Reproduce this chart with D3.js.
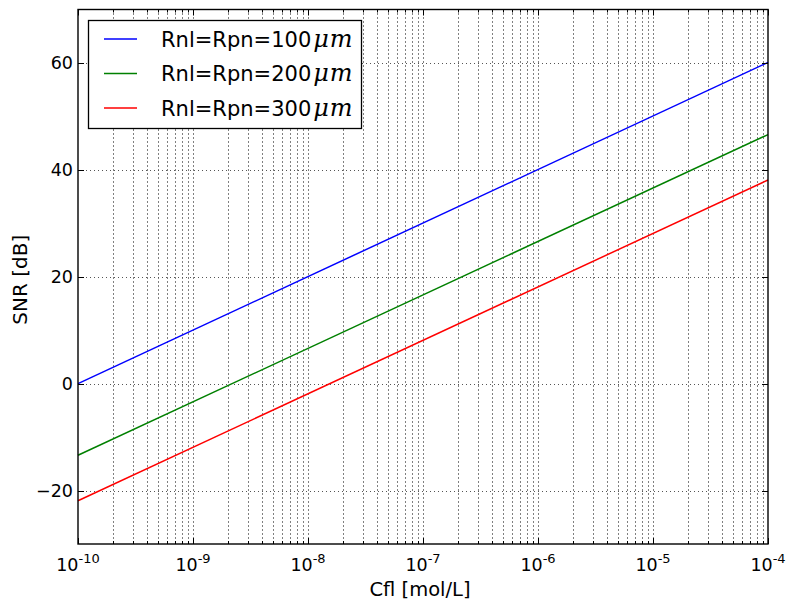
<!DOCTYPE html>
<html>
<head>
<meta charset="utf-8">
<script src="https://cdn.jsdelivr.net/npm/d3@7"></script>
<style>
  body { margin: 0; background: #fff; }
  text { font-family: "DejaVu Sans", sans-serif; }
</style>
</head>
<body>
<svg id="canvas" width="788" height="604"></svg>
<script>
// data
let concentrations = [1e-10, 1e-4]
let seriesNames = ['Rnl=Rpn=100', 'Rnl=Rpn=200', 'Rnl=Rpn=300']
let seriesColors = ['#0000ff', '#008000', '#ff0000']
let snrBlue = [0.0, 60.1]
let snrGreen = [-13.4, 46.6]
let snrRed = [-21.9, 38.1]
let yTicks = [-20, 0, 20, 40, 60]
let xTickExps = [-10, -9, -8, -7, -6, -5, -4]

let series = [snrBlue, snrGreen, snrRed]

let canvas = d3.select('#canvas')
let plotLeft = 78, plotRight = 768, plotTop = 9.5, plotBottom = 544

let xScale = d3.scaleLog().domain([1e-10, 1e-4]).range([plotLeft, plotRight])
let yScale = d3.scaleLinear().domain([-30, 70]).range([plotBottom, plotTop])

// minor positions for the log axis
let minorX = []
for (let e = -10; e < -4; e++) {
    for (let m = 2; m <= 9; m++) minorX.push(m * Math.pow(10, e))
}
let majorX = xTickExps.map(e => Math.pow(10, e))

let grid = canvas.append('g')
grid.selectAll('line.vx')
    .data(majorX.concat(minorX).filter(v => v > 1e-10 && v < 1e-4))
    .enter()
    .append('line')
    .attr('x1', d => Math.round(xScale(d)) + 0.5)
    .attr('x2', d => Math.round(xScale(d)) + 0.5)
    .attr('y1', plotTop).attr('y2', plotBottom)
    .attr('stroke', '#000')
    .attr('stroke-width', 1)
    .attr('stroke-dasharray', '1,3')
grid.selectAll('line.hy')
    .data(yTicks)
    .enter()
    .append('line')
    .attr('x1', plotLeft).attr('x2', plotRight)
    .attr('y1', d => Math.round(yScale(d)) + 0.5)
    .attr('y2', d => Math.round(yScale(d)) + 0.5)
    .attr('stroke', '#555')
    .attr('stroke-width', 1)
    .attr('stroke-dasharray', '1,3')

// lines
let line = d3.line()
    .x((d, i) => xScale(concentrations[i]))
    .y(d => yScale(d))

canvas.selectAll('path.snr')
    .data(series)
    .enter()
    .append('path')
    .attr('class', 'snr')
    .attr('d', d => line(d))
    .attr('fill', 'none')
    .attr('stroke', (d, i) => seriesColors[i])
    .attr('stroke-width', 1.5)

// ticks inward on all four sides
let ticks = canvas.append('g').attr('stroke', '#000').attr('stroke-width', 1)
majorX.forEach(v => {
    let x = Math.round(xScale(v)) + 0.5
    ticks.append('line').attr('x1', x).attr('x2', x).attr('y1', plotBottom).attr('y2', plotBottom - 6)
    ticks.append('line').attr('x1', x).attr('x2', x).attr('y1', plotTop).attr('y2', plotTop + 6)
})
minorX.forEach(v => {
    let x = Math.round(xScale(v)) + 0.5
    ticks.append('line').attr('x1', x).attr('x2', x).attr('y1', plotBottom).attr('y2', plotBottom - 3)
    ticks.append('line').attr('x1', x).attr('x2', x).attr('y1', plotTop).attr('y2', plotTop + 3)
})
yTicks.forEach(v => {
    let y = Math.round(yScale(v)) + 0.5
    ticks.append('line').attr('x1', plotLeft).attr('x2', plotLeft + 6).attr('y1', y).attr('y2', y)
    ticks.append('line').attr('x1', plotRight).attr('x2', plotRight - 6).attr('y1', y).attr('y2', y)
})

// frame
canvas.append('rect')
    .attr('x', plotLeft).attr('y', plotTop)
    .attr('width', plotRight - plotLeft).attr('height', plotBottom - plotTop)
    .attr('fill', 'none')
    .attr('stroke', '#000')
    .attr('stroke-width', 1.4)

// tick labels
let xLabels = canvas.append('g')
xTickExps.forEach(e => {
    let t = xLabels.append('text')
        .attr('x', xScale(Math.pow(10, e)))
        .attr('y', 571)
        .attr('text-anchor', 'middle')
        .attr('font-size', 17.5)
    t.append('tspan').text('10')
    t.append('tspan').attr('dy', -8).attr('font-size', 13).text(e)
})
canvas.selectAll('text.ytick')
    .data(yTicks)
    .enter()
    .append('text')
    .attr('class', 'ytick')
    .attr('x', plotLeft - 5)
    .attr('y', d => yScale(d) + 6.5)
    .attr('text-anchor', 'end')
    .attr('font-size', 17.5)
    .text(d => d < 0 ? '\u2212' + Math.abs(d) : d)

// axis titles
canvas.append('text')
    .attr('x', (plotLeft + plotRight) / 2 - 3)
    .attr('y', 596)
    .attr('text-anchor', 'middle')
    .attr('font-size', 19.5)
    .text('Cfl [mol/L]')
canvas.append('text')
    .attr('transform', `translate(27, ${(plotTop + plotBottom) / 2 + 3}) rotate(-90)`)
    .attr('text-anchor', 'middle')
    .attr('font-size', 20)
    .text('SNR [dB]')

// legend
let legend = canvas.append('g')
legend.append('rect')
    .attr('x', 88.5).attr('y', 20.5)
    .attr('width', 273).attr('height', 108)
    .attr('fill', '#fff')
    .attr('stroke', '#000')
    .attr('stroke-width', 1.3)
seriesNames.forEach((name, i) => {
    let y = 39 + i * 34.5
    legend.append('line')
        .attr('x1', 104).attr('x2', 137)
        .attr('y1', y).attr('y2', y)
        .attr('stroke', seriesColors[i])
        .attr('stroke-width', 1.5)
    let t = legend.append('text')
        .attr('x', 161).attr('y', y + 7.5)
        .attr('font-size', 21)
    t.append('tspan').text(name)
    t.append('tspan')
        .attr('dx', 2)
        .attr('font-family', '"DejaVu Serif", serif')
        .attr('font-style', 'italic')
        .attr('font-size', 24)
        .attr('letter-spacing', 1)
        .text('\u03bcm')
})
</script>
</body>
</html>
